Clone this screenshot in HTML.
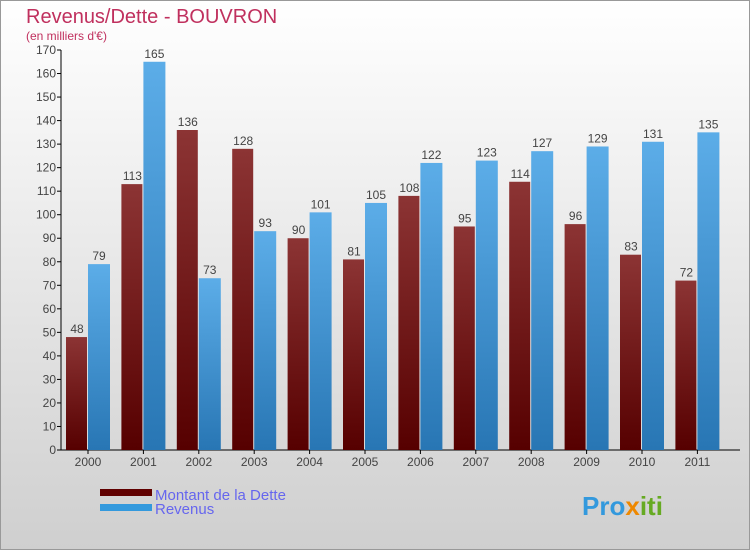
<!DOCTYPE html>
<html><head><meta charset="utf-8"><style>
body{margin:0;width:750px;height:550px;overflow:hidden;font-family:"Liberation Sans",sans-serif}
</style></head><body>
<svg id="c" width="750" height="550" xmlns="http://www.w3.org/2000/svg">
<defs>
<linearGradient id="bg" x1="0" y1="0" x2="0" y2="1"><stop offset="0" stop-color="#ffffff"/><stop offset="1" stop-color="#cfcfcf"/></linearGradient>
<linearGradient id="gd" x1="0" y1="0" x2="0" y2="1"><stop offset="0" stop-color="#8c3434"/><stop offset="1" stop-color="#560000"/></linearGradient>
<linearGradient id="gr" x1="0" y1="0" x2="0" y2="1"><stop offset="0" stop-color="#5cade8"/><stop offset="1" stop-color="#2876b4"/></linearGradient>
</defs>
<rect x="0.5" y="0.5" width="749" height="549" fill="url(#bg)" stroke="#999"/>
<text x="26" y="23" font-size="20" fill="#c0305e">Revenus/Dette - BOUVRON</text>
<text x="26" y="40" font-size="12" fill="#c0305e">(en milliers d'€)</text>
<g id="axes"></g>
<g id="bars"></g>
<rect x="100" y="489" width="52" height="7" fill="#600000"/>
<rect x="100" y="504" width="52" height="7" fill="#3399dd"/>
<text x="155" y="500" font-size="15" fill="#6666ee">Montant de la Dette</text>
<text x="155" y="514" font-size="15" fill="#6666ee">Revenus</text>
<text x="582" y="515" font-size="26" font-weight="bold" fill="#3399dd">Pro<tspan fill="#ee8800">x</tspan><tspan fill="#66aa22">iti</tspan></text>
</svg>
<script>
const years=["2000","2001","2002","2003","2004","2005","2006","2007","2008","2009","2010","2011"];
const dette=[48,113,136,128,90,81,108,95,114,96,83,72];
const revenus=[79,165,73,93,101,105,122,123,127,129,131,135];
const yTicks=[0,10,20,30,40,50,60,70,80,90,100,110,120,130,140,150,160,170];
const NS="http://www.w3.org/2000/svg";
const y0=450,y1=50,vmax=170;
function ys(v){return y0-(v/vmax)*(y0-y1);}
function xc(i){return 88+i*55.4;}
function mk(t,a,p){const e=document.createElementNS(NS,t);for(const k in a)e.setAttribute(k,a[k]);p.appendChild(e);return e;}
const ax=document.getElementById('axes'),bg=document.getElementById('bars');
let l=mk('line',{x1:61,y1:y1,x2:61,y2:y0,stroke:'#000'},ax);


l=mk('line',{x1:61,y1:y0,x2:740,y2:y0,stroke:'#000'},ax);


yTicks.forEach(v=>{
 const t=mk('line',{x1:57,x2:61,y1:ys(v),y2:ys(v),stroke:'#000'},ax);
 
 
 const tx=mk('text',{x:56,y:ys(v)+4,'text-anchor':'end','font-size':12,fill:'#444'},ax);
 tx.textContent=v;
 
 
});
years.forEach((yr,i)=>{
 const c=xc(i);
 const tx=mk('text',{x:c,y:466,'text-anchor':'middle','font-size':12,fill:'#444'},ax);
 tx.textContent=yr;
 
 
 const t=mk('line',{x1:c,x2:c,y1:y0,y2:y0+4,stroke:'#000'},ax);
 
 
 const d=dette[i],r=revenus[i];
 const b1=mk('rect',{x:c-22,y:ys(d),width:21,height:y0-ys(d),fill:'url(#gd)'},bg);
 
 
 const b2=mk('rect',{x:c,y:ys(r),width:22,height:y0-ys(r),fill:'url(#gr)'},bg);
 
 
 const l1=mk('text',{x:c-11,y:ys(d)-4,'text-anchor':'middle','font-size':12,fill:'#444'},bg);
 l1.textContent=d;
 
 
 const l2=mk('text',{x:c+11,y:ys(r)-4,'text-anchor':'middle','font-size':12,fill:'#444'},bg);
 l2.textContent=r;
 
 
});
</script>
</body></html>
